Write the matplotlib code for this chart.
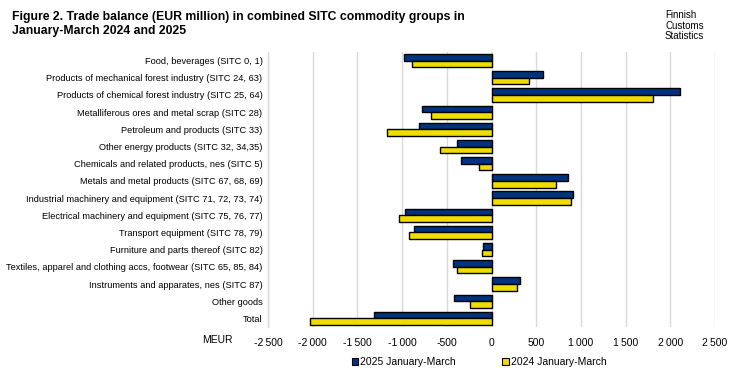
import matplotlib
matplotlib.use("Agg")
import matplotlib.pyplot as plt
from matplotlib.patches import Patch
import numpy as np

categories = [
    "Food, beverages (SITC 0, 1)",
    "Products of mechanical forest industry (SITC 24, 63)",
    "Products of chemical forest industry (SITC 25, 64)",
    "Metalliferous ores and metal scrap (SITC 28)",
    "Petroleum and products (SITC 33)",
    "Other energy products (SITC 32, 34,35)",
    "Chemicals and related products, nes (SITC 5)",
    "Metals and metal products (SITC 67, 68, 69)",
    "Industrial machinery and equipment (SITC 71, 72, 73, 74)",
    "Electrical machinery and equipment (SITC 75, 76, 77)",
    "Transport equipment (SITC 78, 79)",
    "Furniture and parts thereof (SITC 82)",
    "Textiles, apparel and clothing accs, footwear (SITC 65, 85, 84)",
    "Instruments and apparates, nes (SITC 87)",
    "Other goods",
    "Total",
]
values_2025 = [-980, 574, 2107, -780, -813, -388, -343, 858, 910, -973, -872, -97, -436, 317, -414, -1309]
values_2024 = [-891, 417, 1805, -679, -1171, -578, -142, 720, 887, -1037, -925, -108, -391, 283, -246, -2025]
series_labels = ["2025 January-March", "2024 January-March"]
xticks = [-2500, -2000, -1500, -1000, -500, 0, 500, 1000, 1500, 2000, 2500]
xtick_labels = ["-2\u2009500", "-2\u2009000", "-1\u2009500", "-1\u2009000", "-500", "0", "500",
                "1\u2009000", "1\u2009500", "2\u2009000", "2\u2009500"]

plt.rcParams['font.family'] = ['Liberation Sans', 'DejaVu Sans']

c2025 = "#00337F"
c2024 = "#F0DC00"

fig = plt.figure(figsize=(7.37, 3.78), dpi=100)
ax = fig.add_axes([268/737, 1-327/378, (715-268)/737, (327-52)/378])

y = np.arange(len(categories))
h = 0.385
ax.barh(y - h/2, values_2025, height=h, color=c2025, edgecolor="black", linewidth=1.0, zorder=3)
ax.barh(y + h/2, values_2024, height=h, color=c2024, edgecolor="black", linewidth=1.0, zorder=3)

ax.set_xlim(-2500, 2500)
ax.set_ylim(len(categories) - 0.5, -0.5)
ax.set_yticks(y)
ax.set_yticklabels(categories, fontsize=6.7)
ax.set_xticks(xticks)
ax.set_xticklabels(xtick_labels, fontsize=7.5)
ax.tick_params(axis='both', length=0, pad=4)
ax.tick_params(axis='x', pad=8)
ax.grid(axis='x', color="#D9D9D9", linewidth=1.0, zorder=0)
for s in ["top", "right", "bottom"]:
    ax.spines[s].set_visible(False)
ax.spines["left"].set_color("#D9D9D9")
ax.spines["left"].set_linewidth(1.0)

fig.text(202/737, 1-340/378, "MEUR", fontsize=7.5, ha="left", va="center")

fig.text(12/737, 1-16.7/378, "Figure 2. Trade balance (EUR million) in combined SITC commodity groups in",
         fontsize=8.8, fontweight="bold", ha="left", va="center")
fig.text(12/737, 1-30.7/378, "January-March 2024 and 2025",
         fontsize=8.8, fontweight="bold", ha="left", va="center")
for i, line in enumerate(["Finnish", "Customs", "Statistics"]):
    fig.text(665/737, 1-(15.5 + 10.3*i)/378, line, fontsize=7, ha="left", va="center")

handles = [Patch(facecolor=c2025, edgecolor="black", linewidth=0.8),
           Patch(facecolor=c2024, edgecolor="black", linewidth=0.8)]
fig.legend(handles, series_labels, loc="center", bbox_to_anchor=(479/737, 1-362/378), ncol=2,
           frameon=False, fontsize=7.5, handlelength=0.6, handleheight=0.6, handletextpad=0.2,
           columnspacing=4.5)

fig.savefig("out.png", dpi=100)
